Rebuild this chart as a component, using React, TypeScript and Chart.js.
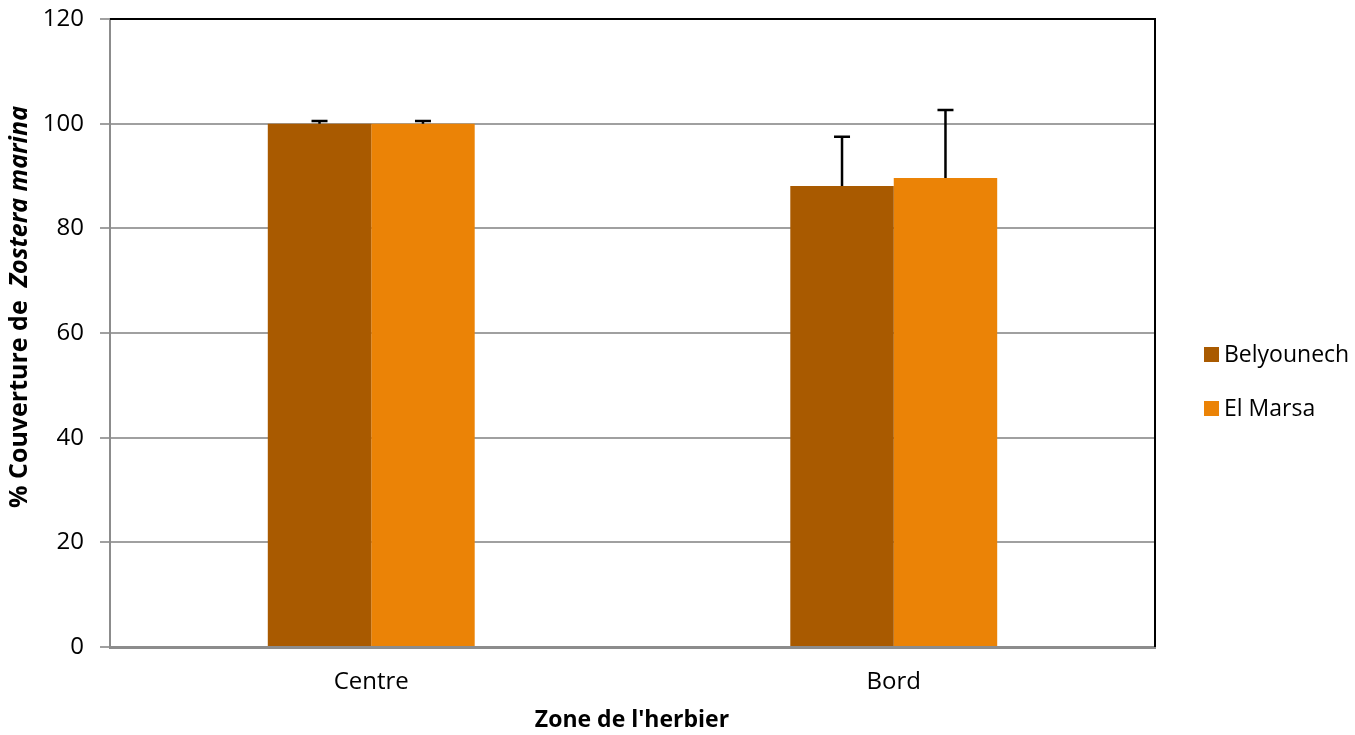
import React, { useEffect, useRef } from "react";
import { Chart, registerables } from "chart.js";

Chart.register(...registerables);

const categories = ["Centre", "Bord"];
const seriesNames = ["Belyounech", "El Marsa"];
const belyounech = [100, 88.1];
const elMarsa = [100, 89.6];
const belyounechErr = [0.5, 9.4];
const elMarsaErr = [0.5, 13.0];
const yTicks = [0, 20, 40, 60, 80, 100, 120];

const COLORS = ["#A95A00", "#EB8306"];
const FONT = "'Open Sans', sans-serif";

const errorBarPlugin = {
  id: "errorBars",
  afterDatasetsDraw(chart: any) {
    const ctx = chart.ctx;
    const yScale = chart.scales.y;
    chart.data.datasets.forEach((ds: any, di: number) => {
      const meta = chart.getDatasetMeta(di);
      const errs: number[] = ds.errors || [];
      meta.data.forEach((el: any, i: number) => {
        const v = ds.data[i];
        const e = errs[i] || 0;
        const yTop = yScale.getPixelForValue(v + e);
        ctx.save();
        ctx.strokeStyle = "#000";
        ctx.lineWidth = 2.5;
        ctx.beginPath();
        ctx.moveTo(el.x, el.y);
        ctx.lineTo(el.x, yTop);
        ctx.moveTo(el.x - 8, yTop);
        ctx.lineTo(el.x + 8, yTop);
        ctx.stroke();
        ctx.restore();
      });
    });
  },
};

const framePlugin = {
  id: "frameAndTitles",
  afterDraw(chart: any) {
    const ctx = chart.ctx;
    const a = chart.chartArea;
    ctx.save();
    ctx.strokeStyle = "#000";
    ctx.lineWidth = 2;
    ctx.beginPath();
    ctx.moveTo(a.left, a.top);
    ctx.lineTo(a.right, a.top);
    ctx.lineTo(a.right, a.bottom);
    ctx.stroke();

    // y title
    const part1 = "% Couverture de  ";
    const part2 = "Zostera marina";
    const f1 = `bold 25px ${FONT}`;
    const f2 = `italic bold 25px ${FONT}`;
    ctx.font = f1;
    const w1 = ctx.measureText(part1).width;
    ctx.font = f2;
    const w2 = ctx.measureText(part2).width;
    const total = w1 + w2;
    ctx.translate(20, 307);
    ctx.rotate(-Math.PI / 2);
    ctx.fillStyle = "#000";
    ctx.textBaseline = "middle";
    ctx.textAlign = "left";
    ctx.font = f1;
    ctx.fillText(part1, -total / 2, 0);
    ctx.font = f2;
    ctx.fillText(part2, -total / 2 + w1, 0);
    ctx.restore();

    // x title
    ctx.save();
    ctx.font = `bold 23px ${FONT}`;
    ctx.fillStyle = "#000";
    ctx.textAlign = "center";
    ctx.textBaseline = "middle";
    ctx.fillText("Zone de l'herbier", 632, 720);
    ctx.restore();

    // legend
    ctx.save();
    chart.data.datasets.forEach((ds: any, i: number) => {
      const cy = 354 + i * 54;
      ctx.fillStyle = ds.backgroundColor;
      ctx.fillRect(1204, cy - 7, 15, 15);
      ctx.fillStyle = "#000";
      ctx.font = `23px ${FONT}`;
      ctx.textAlign = "left";
      ctx.textBaseline = "middle";
      ctx.fillText(ds.label, 1224, cy + 1);
    });
    ctx.restore();
  },
};

export default function App() {
  const ref = useRef<HTMLCanvasElement | null>(null);
  useEffect(() => {
    if (!ref.current) return;
    const chart = new Chart(ref.current, {
      type: "bar",
      data: {
        labels: categories,
        datasets: [
          {
            label: seriesNames[0],
            data: belyounech,
            errors: belyounechErr,
            backgroundColor: COLORS[0],
            categoryPercentage: 0.396,
            barPercentage: 1,
          } as any,
          {
            label: seriesNames[1],
            data: elMarsa,
            errors: elMarsaErr,
            backgroundColor: COLORS[1],
            categoryPercentage: 0.396,
            barPercentage: 1,
          } as any,
        ],
      },
      options: {
        responsive: false,
        animation: false,
        devicePixelRatio: 1,
        layout: { padding: { top: 19, right: 200, left: 0, bottom: 0 } },
        plugins: {
          legend: { display: false },
          tooltip: { enabled: false },
          title: { display: false },
        },
        scales: {
          x: {
            grid: { display: false, drawTicks: false },
            border: { display: true, color: "#8c8c8c", width: 3 },
            ticks: {
              color: "#000",
              font: { family: FONT, size: 24 },
              padding: 21,
            },
            afterFit: (s: any) => {
              s.height = 88;
              s.paddingLeft = 0;
              s.paddingRight = 0;
            },
          },
          y: {
            min: 0,
            max: 120,
            afterBuildTicks: (s: any) => {
              s.ticks = yTicks.map((v) => ({ value: v }));
            },
            grid: {
              color: "#a0a0a0",
              lineWidth: 2,
              drawTicks: true,
              tickLength: 10,
            },
            border: { display: true, color: "#8c8c8c", width: 2 },
            ticks: {
              color: "#000",
              font: { family: FONT, size: 24 },
              padding: 16,
            },
            afterFit: (s: any) => {
              s.width = 110;
              s.paddingTop = 0;
              s.paddingBottom = 0;
            },
          },
        },
      },
      plugins: [errorBarPlugin, framePlugin],
    });
    return () => chart.destroy();
  }, []);
  return (
    <div style={{ position: "fixed", left: 0, top: 0, width: 1355, height: 735, background: "#fff" }}>
      <canvas ref={ref} width={1355} height={735} style={{ display: "block" }} />
    </div>
  );
}
